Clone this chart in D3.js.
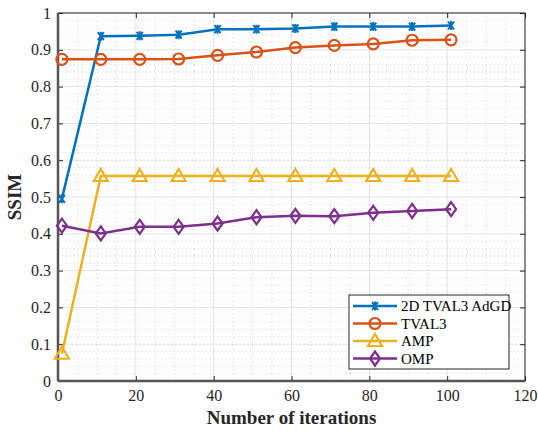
<!DOCTYPE html>
<html>
<head>
<meta charset="utf-8">
<script src="https://cdn.jsdelivr.net/npm/d3@7"></script>
<style>
  body { margin: 0; background: #fff; }
  svg { font-family: "Liberation Serif", "Times New Roman", serif; }
</style>
</head>
<body>
<svg width="538" height="432"></svg>
<script>
// Data
const iterations = [1, 11, 21, 31, 41, 51, 61, 71, 81, 91, 101];
const adgd  = [0.495, 0.937, 0.938, 0.941, 0.956, 0.956, 0.958, 0.963, 0.963, 0.963, 0.966];
const tval3 = [0.874, 0.874, 0.874, 0.875, 0.885, 0.894, 0.906, 0.912, 0.916, 0.926, 0.927];
const amp   = [0.074, 0.557, 0.557, 0.557, 0.557, 0.557, 0.557, 0.557, 0.557, 0.557, 0.557];
const omp   = [0.422, 0.401, 0.419, 0.419, 0.428, 0.445, 0.449, 0.448, 0.457, 0.462, 0.467];
const seriesNames = ['2D TVAL3 AdGD', 'TVAL3', 'AMP', 'OMP'];
const xTicks = [0, 20, 40, 60, 80, 100, 120];
const yTicks = [0, 0.1, 0.2, 0.3, 0.4, 0.5, 0.6, 0.7, 0.8, 0.9, 1];

const series = [
  {name: seriesNames[0], values: adgd,  color: '#0072BD', marker: 'star'},
  {name: seriesNames[1], values: tval3, color: '#D95319', marker: 'circle'},
  {name: seriesNames[2], values: amp,   color: '#EDB120', marker: 'triangle'},
  {name: seriesNames[3], values: omp,   color: '#7E2F8E', marker: 'diamond'}
];

const svg = d3.select('svg');
const margin = {top: 13, right: 13, bottom: 51, left: 58};
const width = 538 - margin.left - margin.right;
const height = 432 - margin.top - margin.bottom;
const g = svg.append('g').attr('transform', `translate(${margin.left},${margin.top})`);

const x = d3.scaleLinear().domain([0, 120]).range([0, width]);
const y = d3.scaleLinear().domain([0, 1]).range([height, 0]);

// Minor grid (dotted)
const minorX = d3.range(0, 121, 5).filter(v => v % 20 !== 0);
const minorY = d3.range(0, 51).map(v => v / 50).filter((v, i) => i % 5 !== 0);
g.append('g').selectAll('line').data(minorX).enter().append('line')
  .attr('x1', d => x(d)).attr('x2', d => x(d)).attr('y1', 0).attr('y2', height)
  .attr('stroke', '#c8c8c8').attr('stroke-width', 0.8).attr('stroke-dasharray', '1,3');
g.append('g').selectAll('line').data(minorY).enter().append('line')
  .attr('y1', d => y(d)).attr('y2', d => y(d)).attr('x1', 0).attr('x2', width)
  .attr('stroke', '#c8c8c8').attr('stroke-width', 0.8).attr('stroke-dasharray', '1,3');

// Major grid
g.append('g').selectAll('line').data(xTicks).enter().append('line')
  .attr('x1', d => x(d)).attr('x2', d => x(d)).attr('y1', 0).attr('y2', height)
  .attr('stroke', '#e3e3e3').attr('stroke-width', 1);
g.append('g').selectAll('line').data(yTicks).enter().append('line')
  .attr('y1', d => y(d)).attr('y2', d => y(d)).attr('x1', 0).attr('x2', width)
  .attr('stroke', '#e3e3e3').attr('stroke-width', 1);

// Axes (ticks pointing inward)
const axisColor = '#262626';
function styleAxis (sel) {
  sel.select('.domain').remove();
  sel.selectAll('line').attr('stroke', axisColor);
  sel.selectAll('text').attr('fill', axisColor).style('font-size', '16px')
    .style('font-family', '"Liberation Serif", serif');
}
g.append('g').attr('transform', `translate(0,${height})`)
  .call(d3.axisBottom(x).tickValues(xTicks).tickSize(-5).tickPadding(9).tickFormat(d3.format('d')))
  .call(styleAxis);
g.append('g')
  .call(d3.axisTop(x).tickValues(xTicks).tickSize(-5).tickFormat(''))
  .call(styleAxis);
g.append('g')
  .call(d3.axisLeft(y).tickValues(yTicks).tickSize(-5).tickPadding(7).tickFormat(d => d === 0 || d === 1 ? d3.format('d')(d) : d3.format('.1f')(d)))
  .call(styleAxis);
g.append('g').attr('transform', `translate(${width},0)`)
  .call(d3.axisRight(y).tickValues(yTicks).tickSize(-5).tickFormat(''))
  .call(styleAxis);

g.append('rect').attr('width', width).attr('height', height)
  .attr('fill', 'none').attr('stroke', axisColor).attr('stroke-width', 1);
g.append('line').attr('x1', 0).attr('x2', 0).attr('y1', 0).attr('y2', height)
  .attr('stroke', '#555').attr('stroke-width', 2.5);
g.append('line').attr('x1', 0).attr('x2', width).attr('y1', height).attr('y2', height)
  .attr('stroke', '#555').attr('stroke-width', 2.5);

// Marker shapes
function drawMarker (sel, type, color) {
  if (type === 'circle') {
    sel.append('circle').attr('r', 5.5).attr('fill', 'none')
      .attr('stroke', color).attr('stroke-width', 2.2);
  } else if (type === 'triangle') {
    sel.append('path').attr('d', 'M0,-7L7,5L-7,5Z').attr('fill', 'none')
      .attr('stroke', color).attr('stroke-width', 2.2);
  } else if (type === 'diamond') {
    sel.append('path').attr('d', 'M0,-7L5,0L0,7L-5,0Z').attr('fill', 'none')
      .attr('stroke', color).attr('stroke-width', 2.2);
  } else {
    sel.append('path').attr('d', 'M-3,-4L3,4M-3,4L3,-4M0,-4.5L0,4.5')
      .attr('fill', 'none').attr('stroke', color).attr('stroke-width', 2);
  }
}

const line = d3.line()
  .x((d, i) => x(iterations[i]))
  .y(d => y(d));

series.forEach(s => {
  const sg = g.append('g').attr('class', 'series');
  sg.append('path').attr('d', line(s.values))
    .attr('fill', 'none').attr('stroke', s.color).attr('stroke-width', 2.5);
  sg.selectAll('.pt').data(s.values).enter().append('g')
    .attr('class', 'pt')
    .attr('transform', (d, i) => `translate(${x(iterations[i])},${y(d)})`)
    .each(function () { drawMarker(d3.select(this), s.marker, s.color); });
});

// Axis labels
svg.append('text')
  .attr('x', margin.left + width / 2).attr('y', 424)
  .attr('text-anchor', 'middle').style('font-size', '19px').style('font-weight', 'bold')
  .attr('fill', axisColor).text('Number of iterations');
svg.append('text')
  .attr('transform', `translate(21,${margin.top + height / 2}) rotate(-90)`)
  .attr('text-anchor', 'middle').style('font-size', '19px').style('font-weight', 'bold')
  .attr('fill', axisColor).text('SSIM');

// Legend
const legend = svg.append('g').attr('transform', 'translate(349,295)');
legend.append('rect').attr('width', 160).attr('height', 74)
  .attr('fill', '#fff').attr('stroke', axisColor).attr('stroke-width', 1);
series.forEach((s, i) => {
  const row = legend.append('g').attr('transform', `translate(0,${11 + i * 17.5})`);
  row.append('line').attr('x1', 4).attr('x2', 48).attr('y1', 0).attr('y2', 0)
    .attr('stroke', s.color).attr('stroke-width', 2.5);
  drawMarker(row.append('g').attr('transform', 'translate(26,0)'), s.marker, s.color);
  row.append('text').attr('x', 52).attr('y', 5).style('font-size', '15px')
    .attr('fill', '#000').text(s.name);
});
</script>
</body>
</html>
